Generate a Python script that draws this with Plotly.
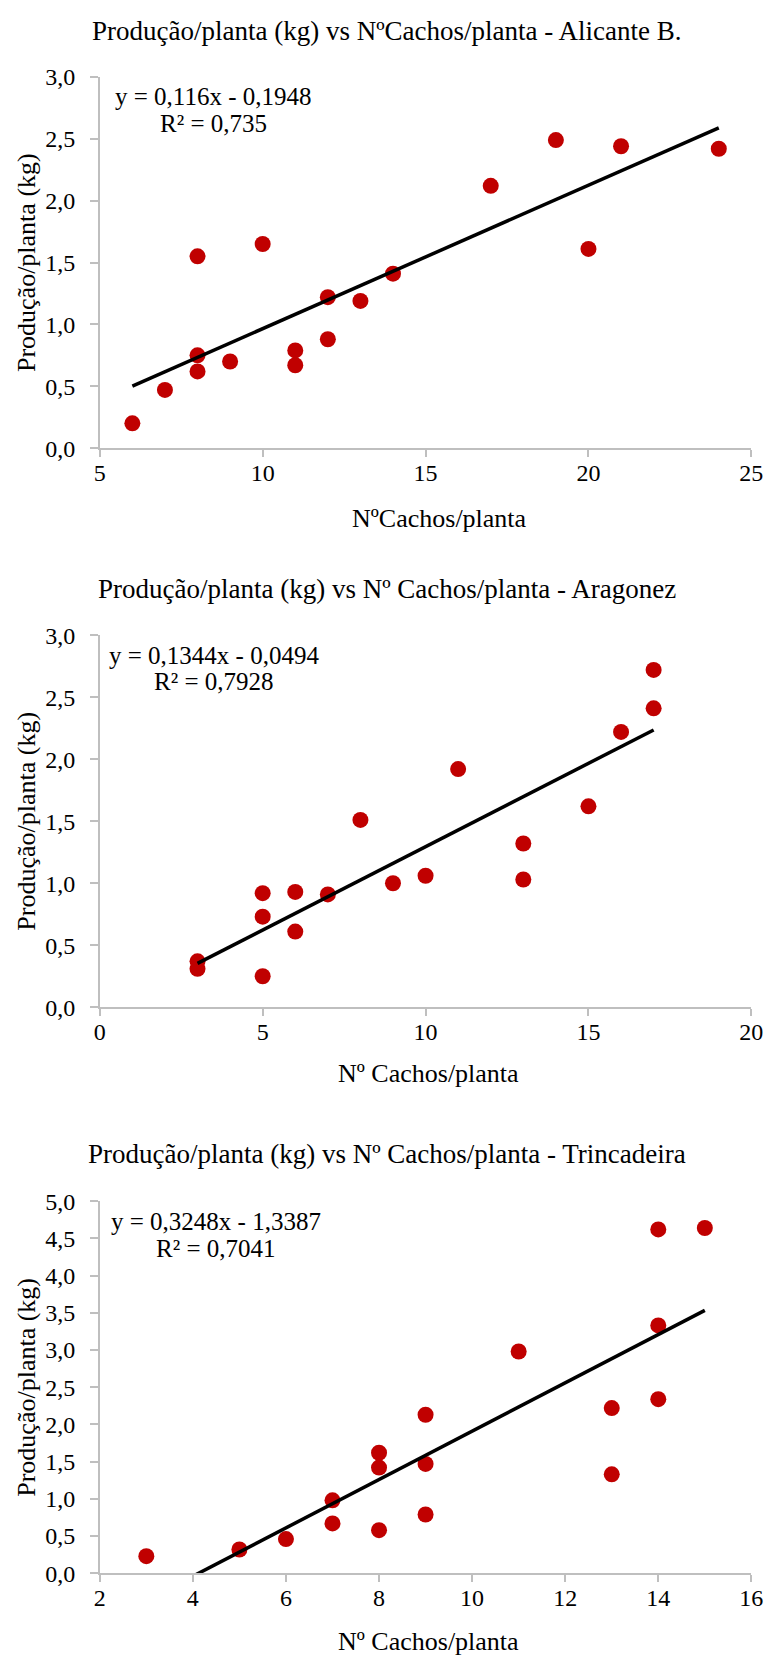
import plotly.graph_objects as go

# ---------------- data ----------------
titles = [
    "Produção/planta (kg) vs NºCachos/planta - Alicante B.",
    "Produção/planta (kg) vs Nº Cachos/planta - Aragonez",
    "Produção/planta (kg) vs Nº Cachos/planta - Trincadeira",
]
x_titles = ["NºCachos/planta", "Nº Cachos/planta", "Nº Cachos/planta"]
y_title = "Produção/planta (kg)"

alicante_x = [6, 7, 8, 8, 8, 9, 10, 11, 11, 12, 12, 13, 14, 17, 19, 20, 21, 24]
alicante_y = [0.20, 0.47, 1.55, 0.75, 0.62, 0.70, 1.65, 0.79, 0.67, 1.22, 0.88,
              1.19, 1.41, 2.12, 2.49, 1.61, 2.44, 2.42]

aragonez_x = [3, 3, 5, 5, 5, 6, 6, 7, 8, 9, 10, 11, 13, 13, 15, 16, 17, 17]
aragonez_y = [0.37, 0.31, 0.92, 0.73, 0.25, 0.93, 0.61, 0.91, 1.51, 1.00, 1.06,
              1.92, 1.32, 1.03, 1.62, 2.22, 2.41, 2.72]

trinca_x = [3, 5, 6, 7, 7, 8, 8, 8, 9, 9, 9, 11, 13, 13, 14, 14, 14, 15]
trinca_y = [0.23, 0.32, 0.46, 0.98, 0.67, 1.62, 1.42, 0.58, 2.13, 1.47, 0.79,
            2.98, 2.22, 1.33, 3.33, 2.34, 4.62, 4.64]

slopes = [0.116, 0.1344, 0.3248]
intercepts = [-0.1948, -0.0494, -1.3387]
r2_values = [0.735, 0.7928, 0.7041]

x_ranges = [[5, 25], [0, 20], [2, 16]]
x_dticks = [5, 5, 2]
y_ranges = [[0, 3], [0, 3], [0, 5]]
y_dtick = 0.5

series_x = [alicante_x, aragonez_x, trinca_x]
series_y = [alicante_y, aragonez_y, trinca_y]

# ---------------- layout geometry (pixels) ----------------
W, H = 779, 1668
plot_left, plot_right = 96, 763
plot_tops = [65, 632, 1207]
plot_bottoms = [442, 1010, 1585]
title_cy = [18, 585, 1159]
xtitle_cy = [513, 1077, 1654]
xtitle_cx = [444, 432, 432]
eq_cy = [(85, 112), (653, 679), (1228, 1255)]
eq_cx = [212, 213, 215]

FONT = "Liberation Serif, Times New Roman, Times, serif"
RED = "#C00000"
GRAY = "#BFBFBF"


def px_x(p):
    return p / W


def px_y(p):
    return 1 - p / H


def fmt(v):
    return str(v).replace(".", ",")


fig = go.Figure()
annotations = []

for i in range(3):
    xa = "x" if i == 0 else f"x{i+1}"
    ya = "y" if i == 0 else f"y{i+1}"
    xs, ys = series_x[i], series_y[i]
    fig.add_trace(go.Scatter(
        x=xs, y=ys, mode="markers", xaxis=xa, yaxis=ya,
        marker=dict(color=RED, size=16, line=dict(width=0)),
        showlegend=False, cliponaxis=False,
    ))
    lx = [min(xs), max(xs)]
    ly = [slopes[i] * v + intercepts[i] for v in lx]
    fig.add_trace(go.Scatter(
        x=lx, y=ly, mode="lines", xaxis=xa, yaxis=ya,
        line=dict(color="black", width=3.5), showlegend=False,
    ))

    axis_common = dict(
        showgrid=False, zeroline=False, showline=True, linecolor=GRAY,
        linewidth=1.5, ticks="outside", tickcolor=GRAY, tickwidth=1.5,
        tickfont=dict(family=FONT, size=24, color="black"),
    )
    xkey = "xaxis" if i == 0 else f"xaxis{i+1}"
    ykey = "yaxis" if i == 0 else f"yaxis{i+1}"
    fig.update_layout(**{
        xkey: dict(axis_common, domain=[px_x(plot_left), px_x(plot_right)],
                   range=x_ranges[i], dtick=x_dticks[i], tick0=0,
                   anchor=ya, ticklen=7, ticklabelstandoff=-5),
        ykey: dict(axis_common, domain=[px_y(plot_bottoms[i]), px_y(plot_tops[i])],
                   range=y_ranges[i], dtick=y_dtick, tick0=0, tickformat=".1f",
                   anchor=xa, ticklen=8, ticklabelstandoff=10),
    })

    annotations.append(dict(
        text=titles[i], xref="paper", yref="paper", x=0.5, y=px_y(title_cy[i]),
        xanchor="center", yanchor="middle", showarrow=False,
        font=dict(family=FONT, size=27, color="black")))
    annotations.append(dict(
        text=x_titles[i], xref="paper", yref="paper", x=px_x(xtitle_cx[i]),
        y=px_y(xtitle_cy[i]), xanchor="center", yanchor="middle", showarrow=False,
        font=dict(family=FONT, size=26, color="black")))
    annotations.append(dict(
        text=y_title, xref="paper", yref="paper", x=px_x(21),
        y=px_y((plot_tops[i] + plot_bottoms[i]) / 2), xanchor="center",
        yanchor="middle", textangle=-90, showarrow=False,
        font=dict(family=FONT, size=26, color="black")))
    eq_line = f"y = {fmt(slopes[i])}x - {fmt(abs(intercepts[i]))}"
    r2_line = f"R² = {fmt(r2_values[i])}"
    for txt, cy in zip([eq_line, r2_line], eq_cy[i]):
        annotations.append(dict(
            text=txt, xref="paper", yref="paper", x=px_x(eq_cx[i]), y=px_y(cy),
            xanchor="center", yanchor="middle", showarrow=False,
            font=dict(family=FONT, size=25, color="black")))

fig.update_layout(
    width=W, height=H, margin=dict(l=0, r=0, t=0, b=0),
    paper_bgcolor="white", plot_bgcolor="white",
    separators=",.", annotations=annotations,
    font=dict(family=FONT, color="black"),
)

fig.write_html("out.html")
